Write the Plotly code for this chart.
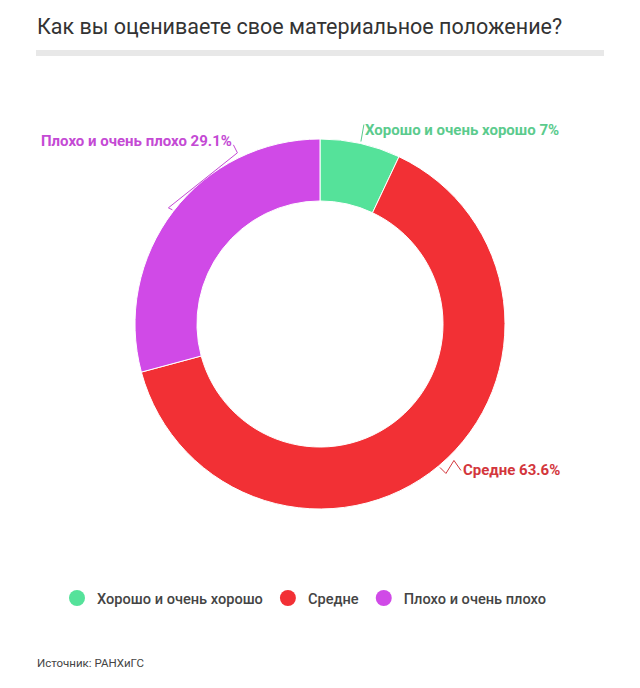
import math
import plotly.graph_objects as go

# ---- data ----
categories = ["Хорошо и очень хорошо", "Средне", "Плохо и очень плохо"]
values = [7, 63.6, 29.1]
slice_colors = ["#55E29A", "#F23035", "#D04AE7"]
label_colors = ["#5BCB8D", "#D3363C", "#C44AD4"]
title_text = "Как вы оцениваете свое материальное положение?"
source_text = "Источник: РАНХиГС"

W, H = 640, 688
CX, CY, R = 320, 324, 185
HOLE = 0.665


def px(x):
    return x / W


def py(y):
    return 1 - y / H


def polar(angle_deg, r):
    a = math.radians(angle_deg)
    return CX + r * math.sin(a), CY - r * math.cos(a)


fig = go.Figure()
fig.add_trace(go.Pie(
    labels=categories, values=values, sort=False, direction="clockwise",
    rotation=0, hole=HOLE, textinfo="none", hoverinfo="label+percent",
    marker=dict(colors=slice_colors, line=dict(color="white", width=1)),
    domain=dict(x=[px(CX - R), px(CX + R)], y=[py(CY + R), py(CY - R)]),
    showlegend=False,
))

# legend with circle markers
for name, col in zip(categories, slice_colors):
    fig.add_trace(go.Scatter(x=[None], y=[None], mode="markers", name=name,
                             marker=dict(color=col, size=18, symbol="circle"),
                             hoverinfo="skip"))

# slice mid angles
total = sum(values)
mids = []
acc = 0
for v in values:
    mids.append((acc + v / 2) / total * 360)
    acc += v

labels_txt = [f"{c} {v:g}%" for c, v in zip(categories, values)]
shapes = []
annotations = []


def path_of(points):
    return "M " + " L ".join(f"{px(x)},{py(y)}" for x, y in points)


lab_font = dict(family="Roboto", size=15, weight="bold")

# green label (top right)
g0 = polar(mids[0], R + 2)
g1 = (g0[0] + 3, g0[1] - 17)
shapes.append(dict(type="path", xref="paper", yref="paper", path=path_of([g0, g1]),
                   line=dict(color=label_colors[0], width=1)))
annotations.append(dict(x=px(g1[0] - 1), y=py(g1[1] + 5), xref="paper", yref="paper",
                        text=labels_txt[0], showarrow=False, xanchor="left", yanchor="middle",
                        font=dict(color=label_colors[0], **lab_font)))

# red label (bottom right)
r0 = polar(mids[1], R + 2)
r1 = (r0[0] + 6, r0[1] + 6)
r2 = (r1[0] + 8, r1[1] - 13)
r3 = (r2[0] + 7, r2[1] + 10)
shapes.append(dict(type="path", xref="paper", yref="paper", path=path_of([r0, r1, r2, r3]),
                   line=dict(color=label_colors[1], width=1)))
annotations.append(dict(x=px(r3[0]), y=py(r3[1]), xref="paper", yref="paper",
                        text=labels_txt[1], showarrow=False, xanchor="left", yanchor="middle",
                        font=dict(color=label_colors[1], **lab_font)))

# purple label (top left)
p0 = polar(mids[2], R + 6)
pt = (p0[0] + 4, p0[1] + 2)
p1 = (p0[0] + 69, p0[1] - 55)
p2 = (p1[0] - 4, p1[1] - 8)
shapes.append(dict(type="path", xref="paper", yref="paper", path=path_of([pt, p0, p1, p2]),
                   line=dict(color=label_colors[2], width=1)))
annotations.append(dict(x=px(p2[0] + 1), y=py(p2[1] - 4), xref="paper", yref="paper",
                        text=labels_txt[2], showarrow=False, xanchor="right", yanchor="middle",
                        font=dict(color=label_colors[2], **lab_font)))

# title, rule, source
annotations.append(dict(x=px(35), y=py(27), xref="paper", yref="paper", text=title_text,
                        showarrow=False, xanchor="left", yanchor="middle",
                        font=dict(family="Roboto", size=21.5, color="#333333")))
shapes.append(dict(type="rect", xref="paper", yref="paper", x0=px(36), x1=px(604),
                   y0=py(50), y1=py(56), fillcolor="#E8E8E8", line=dict(width=0)))
annotations.append(dict(x=px(35), y=py(663), xref="paper", yref="paper", text=source_text,
                        showarrow=False, xanchor="left", yanchor="middle",
                        font=dict(family="Roboto", size=11.5, color="#444444")))

fig.update_layout(
    width=W, height=H, margin=dict(l=0, r=0, t=0, b=0),
    paper_bgcolor="white", plot_bgcolor="white",
    xaxis=dict(visible=False), yaxis=dict(visible=False),
    shapes=shapes, annotations=annotations,
    showlegend=True,
    legend=dict(orientation="h", x=px(57), xanchor="left", y=py(598), yanchor="middle",
                font=dict(family="Roboto", size=14.6, color="#444444", weight=500),
                itemclick=False, itemdoubleclick=False),
    font=dict(family="Roboto"),
)

fig.write_html("out.html")
